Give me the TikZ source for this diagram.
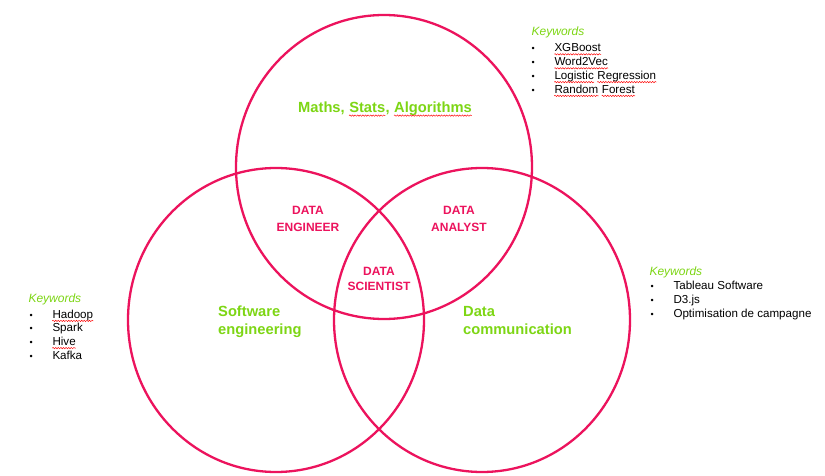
\documentclass[tikz,border=0pt]{standalone}
\usepackage{fontspec}
\setmainfont{Liberation Sans}
\usetikzlibrary{shapes.geometric,decorations.pathmorphing}
\definecolor{venn}{RGB}{236,19,93}
\definecolor{lime}{RGB}{125,214,20}
\tikzset{
  vc/.style={ellipse, draw=venn, line width=2.3pt, minimum width=296pt, minimum height=304pt, inner sep=0pt},
  role/.style={text=venn, font=\fontsize{12}{14}\selectfont\bfseries, inner sep=0pt, anchor=base},
  field/.style={text=lime, font=\fontsize{14.7}{17}\selectfont\bfseries, inner sep=0pt, anchor=base west},
  kwhead/.style={text=lime, font=\fontsize{12}{14}\selectfont\itshape, inner sep=0pt, anchor=base west},
  kwbullet/.style={font=\fontsize{9}{11}\selectfont, inner sep=0pt, anchor=base west},
  kwitem/.style={font=\fontsize{11.6}{14}\selectfont, inner sep=0pt, anchor=base west},
  squig/.style={draw=red, line width=0.45pt, decorate, decoration={snake, amplitude=0.7pt, segment length=2.6pt}}
}
\newcommand\squiggle[1]{\draw[squig] ([yshift=-2.6pt]#1.base west) -- ([yshift=-2.6pt]#1.base east);}
\begin{document}
\begin{tikzpicture}[x=1pt,y=-1pt]
\useasboundingbox (0,0) rectangle (825,476);
\fill[white] (0,0) rectangle (825,476);
% circles
\node[vc] (top) at (384,167) {};
\node[vc] (left) at (276,320) {};
\node[vc] (right) at (482,320) {};
% field labels
\node[field] (m1) at (298,113) {Maths,};
\node[field] (m2) at ([xshift=4.1pt]m1.base east) {Stats};
\node[field] (m3) at (m2.base east) {,};
\node[field] (m4) at ([xshift=4.1pt]m3.base east) {Algorithms};
\squiggle{m2}
\squiggle{m4}
\node[field] (sw1) at (218,316.7) {Software};
\node[field] (sw2) at (218,334.3) {engineering};
\node[field] (dc1) at (463,316.7) {Data};
\node[field] (dc2) at (463,334.3) {communication};
% roles
\node[role] (de1) at (308,214.3) {DATA};
\node[role] (de2) at (308,231) {ENGINEER};
\node[role] (da1) at (459,214.3) {DATA};
\node[role] (da2) at (459,231) {ANALYST};
\node[role] (ds1) at (379,275) {DATA};
\node[role] (ds2) at (379,290.7) {SCIENTIST};
% keywords top right
\node[kwhead] (kta) at (531.5,36) {Keywords};
\node[kwbullet] (ktb1) at (531.5,51.7) {•};
\node[kwitem] (kt1) at (554.3,51.7) {XGBoost};
\node[kwbullet] (ktb2) at (531.5,65.7) {•};
\node[kwitem] (kt2) at (554.3,65.7) {Word2Vec};
\node[kwbullet] (ktb3) at (531.5,79.5) {•};
\node[kwitem] (kt3) at (554.3,79.5) {Logistic};
\node[kwitem] (kt3b) at ([xshift=3.2pt]kt3.base east) {Regression};
\node[kwbullet] (ktb4) at (531.5,93.3) {•};
\node[kwitem] (kt4) at (554.3,93.3) {Random};
\node[kwitem] (kt4b) at ([xshift=3.2pt]kt4.base east) {Forest};
\squiggle{kt1}
\squiggle{kt2}
\squiggle{kt3}
\squiggle{kt3b}
\squiggle{kt4}
\squiggle{kt4b}
% keywords right
\node[kwhead] (kra) at (649.3,275) {Keywords};
\node[kwbullet] (krb1) at (650.5,289.3) {•};
\node[kwitem] (kr1) at (673.3,289.3) {Tableau Software};
\node[kwbullet] (krb2) at (650.5,303.3) {•};
\node[kwitem] (kr2) at (673.3,303.3) {D3.js};
\node[kwbullet] (krb3) at (650.5,317.3) {•};
\node[kwitem] (kr3) at (673.3,317.3) {Optimisation de campagne};
% keywords left
\node[kwhead] (kla) at (28.3,302.3) {Keywords};
\node[kwbullet] (klb1) at (29.5,318.3) {•};
\node[kwitem] (kl1) at (52.3,318.3) {Hadoop};
\node[kwbullet] (klb2) at (29.5,331.8) {•};
\node[kwitem] (kl2) at (52.3,331.8) {Spark};
\node[kwbullet] (klb3) at (29.5,345.5) {•};
\node[kwitem] (kl3) at (52.3,345.5) {Hive};
\node[kwbullet] (klb4) at (29.5,359) {•};
\node[kwitem] (kl4) at (52.3,359) {Kafka};
\squiggle{kl1}
\squiggle{kl3}
\end{tikzpicture}
\end{document}
